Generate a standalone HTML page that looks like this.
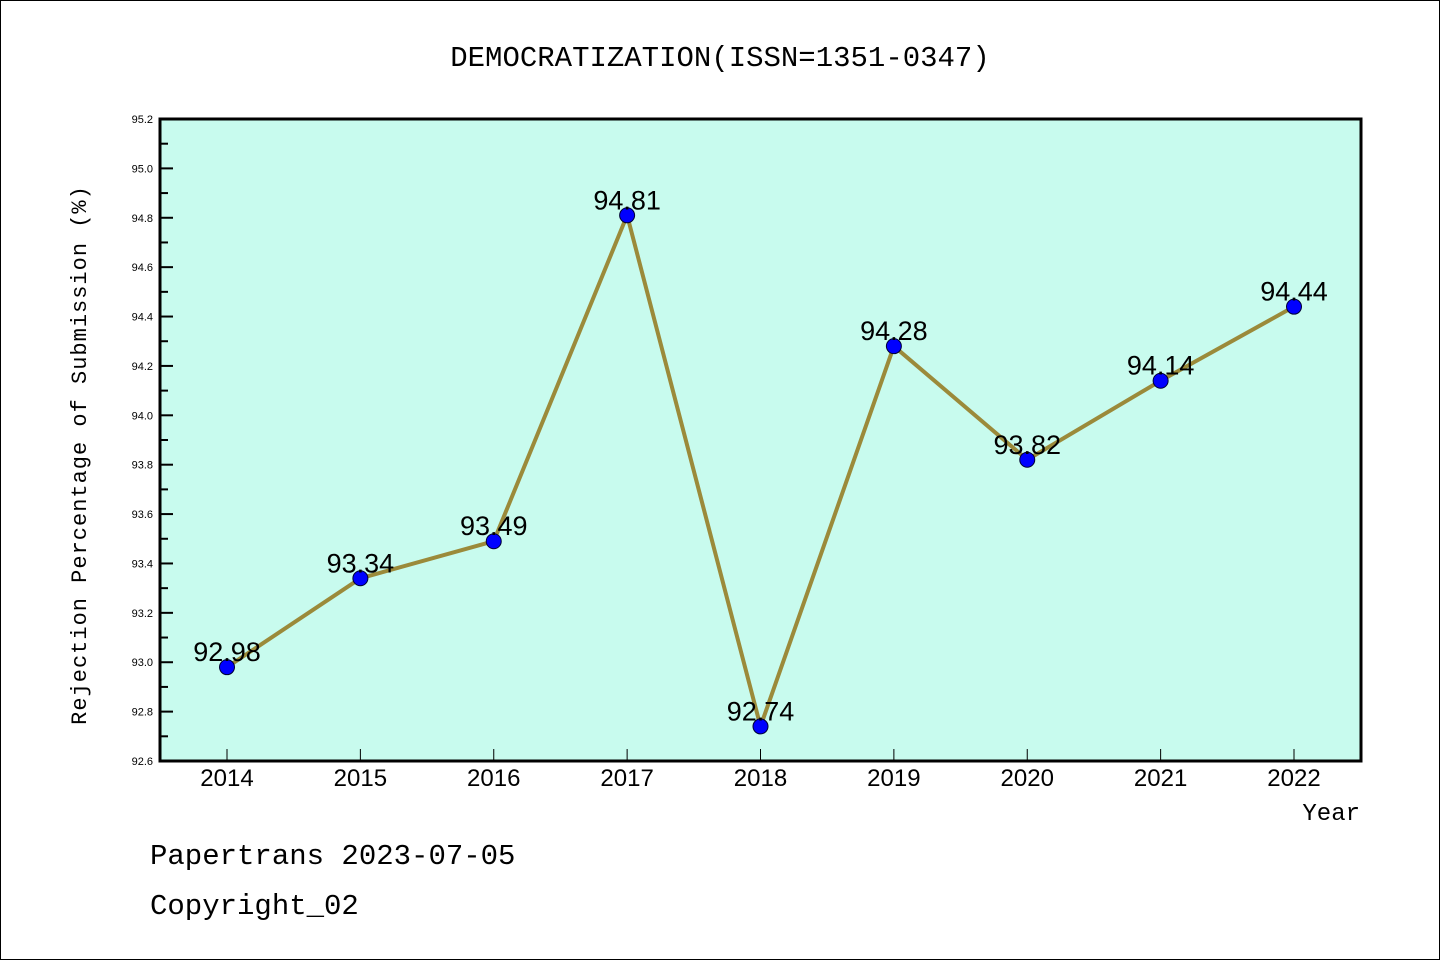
<!DOCTYPE html>
<html><head><meta charset="utf-8"><style>
body{margin:0;background:#fff;}
svg{display:block;font-family:"Liberation Mono","DejaVu Sans Mono",monospace;}
</style></head><body>
<svg id="chart" width="1440" height="960">
<rect x="0.5" y="0.5" width="1439" height="959" fill="#fff" stroke="#000"/>
<text x="720" y="66" font-size="29" text-anchor="middle">DEMOCRATIZATION(ISSN=1351-0347)</text>
<rect x="160" y="119" width="1201" height="642" fill="#c8fbee"/>
<g id="yaxis"></g>
<g id="xaxis"></g>
<g id="series"></g>
<rect x="160" y="119" width="1201" height="642" fill="none" stroke="#000" stroke-width="3"/>
<text transform="translate(86,455) rotate(-90)" font-size="22" text-anchor="middle" letter-spacing="1">Rejection Percentage of Submission (%)</text>
<text x="1360" y="820" font-size="24" text-anchor="end">Year</text>
<text x="150" y="864" font-size="29">Papertrans 2023-07-05</text>
<text x="150" y="914" font-size="29">Copyright_02</text>
</svg>
<script>
const years = ["2014","2015","2016","2017","2018","2019","2020","2021","2022"];
const values = [92.98, 93.34, 93.49, 94.81, 92.74, 94.28, 93.82, 94.14, 94.44];
const yTicks = [92.6, 92.8, 93.0, 93.2, 93.4, 93.6, 93.8, 94.0, 94.2, 94.4, 94.6, 94.8, 95.0, 95.2];
const NS = "http://www.w3.org/2000/svg";
const yMin = 92.6, yMax = 95.2, plotTop = 119, plotBot = 761;
function yS(v){ return plotBot - (v - yMin) / (yMax - yMin) * (plotBot - plotTop); }
function xS(i){ return 227 + i * (1294 - 227) / (years.length - 1); }
function mk(tag, attrs, parent){ const e = document.createElementNS(NS, tag); for (const k in attrs) e.setAttribute(k, attrs[k]); parent.appendChild(e); return e; }
const ya = document.getElementById('yaxis'), xa = document.getElementById('xaxis'), sg = document.getElementById('series');
yTicks.forEach((t, i) => {
  const y = yS(t);
  const l = mk('line', {x1:160, x2:173, y1:y, y2:y, stroke:'#000', 'stroke-width':2}, ya);
  
  
  const tx = mk('text', {x:153, y:y+4, 'font-size':11, 'text-anchor':'end', 'font-family':'Liberation Sans, sans-serif'}, ya);
  tx.textContent = t.toFixed(1);
  
  
  if (i < yTicks.length - 1) {
    const ym = yS(t + 0.1);
    const m = mk('line', {x1:160, x2:168, y1:ym, y2:ym, stroke:'#000', 'stroke-width':2}, ya);
    
    
  }
});
years.forEach((yr, i) => {
  const x = xS(i);
  const l = mk('line', {x1:x, x2:x, y1:749, y2:761, stroke:'#000', 'stroke-width':1}, xa);
  
  
  const tx = mk('text', {x:x, y:786, 'font-size':24, 'text-anchor':'middle', 'font-family':'Liberation Sans, sans-serif'}, xa);
  tx.textContent = yr;
  
  
});
const pl = mk('polyline', {points: values.map((v, i) => xS(i) + ',' + yS(v)).join(' '), fill:'none', stroke:'#9b8a3a', 'stroke-width':4, 'stroke-linejoin':'round'}, sg);


values.forEach((v, i) => {
  const c = mk('circle', {cx:xS(i), cy:yS(v), r:7.5, fill:'#0000ff', stroke:'#000033', 'stroke-width':1}, sg);
  
  
  const t = mk('text', {x:xS(i), y:yS(v) - 6, 'font-size':27, 'text-anchor':'middle', 'font-family':'Liberation Sans, sans-serif'}, sg);
  t.textContent = v.toFixed(2);
  
  
});
</script>
</body></html>
